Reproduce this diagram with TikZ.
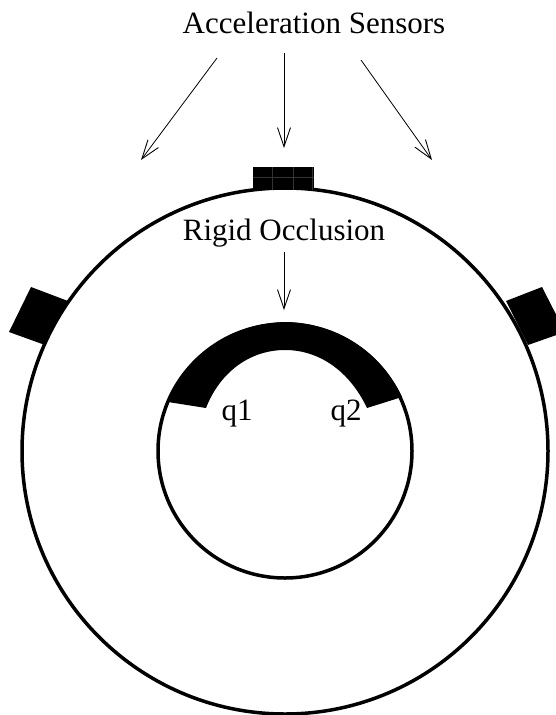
\documentclass[tikz,border=0pt]{standalone}
\usepackage{fontspec}
\setmainfont{Liberation Serif}
\usetikzlibrary{arrows.meta}
\tikzset{
  ring/.style={draw=black,line width=3.5pt},
  sensor/.style={fill=black,draw=none},
  pointer/.style={draw=black,line width=0.8pt,-{Straight Barb[length=19pt,width=13pt,line width=0.9pt]}},
  lbl/.style={font=\fontsize{31}{33}\selectfont,inner sep=0pt,text=black},
  seam/.style={draw=black!80,line width=0.4pt}
}
\begin{document}
\begin{tikzpicture}[x=1pt,y=-1pt]
\useasboundingbox (0,0) rectangle (556,715);
\clip (0,0) rectangle (556,715);
\coordinate (c) at (285,451);
\draw[ring] (c) circle[radius=263];
\draw[ring] (c) circle[radius=127];
\fill[sensor] (253,167) rectangle (314,190);
\draw[seam] (272,167)--(272,190) (293,167)--(293,190) (312,167)--(312,190) (253,177)--(314,177);
\fill[sensor] (31,287)--(68,301)--(45,345)--(9,332)--cycle;
\fill[sensor] (506,301)--(542,287)--(565,332)--(528,345)--cycle;
\fill[black] (168,402) .. controls (190,350) and (235,323) .. (286,322)
  .. controls (335,323) and (380,350) .. (402,397)
  -- (367,408) .. controls (350,372) and (320,350) .. (285,350)
  .. controls (250,350) and (220,372) .. (206,408) -- cycle;
\node[lbl,anchor=base] (title) at (314,33) {Acceleration Sensors};
\node[lbl,anchor=base] (rigid) at (284,240) {Rigid Occlusion};
\node[lbl,anchor=base] (q1) at (237,420) {q1};
\node[lbl,anchor=base] (q2) at (346,420) {q2};
\coordinate (a1s) at (217,58); \coordinate (a1e) at (141,160);
\coordinate (a2s) at (284,53); \coordinate (a2e) at (284,148);
\coordinate (a3s) at (361,60); \coordinate (a3e) at (432,160);
\coordinate (a4s) at (284,252); \coordinate (a4e) at (284,310);
\draw[pointer] (a1s)--(a1e);
\draw[pointer] (a2s)--(a2e);
\draw[pointer] (a3s)--(a3e);
\draw[pointer] (a4s)--(a4e);
\end{tikzpicture}
\end{document}
